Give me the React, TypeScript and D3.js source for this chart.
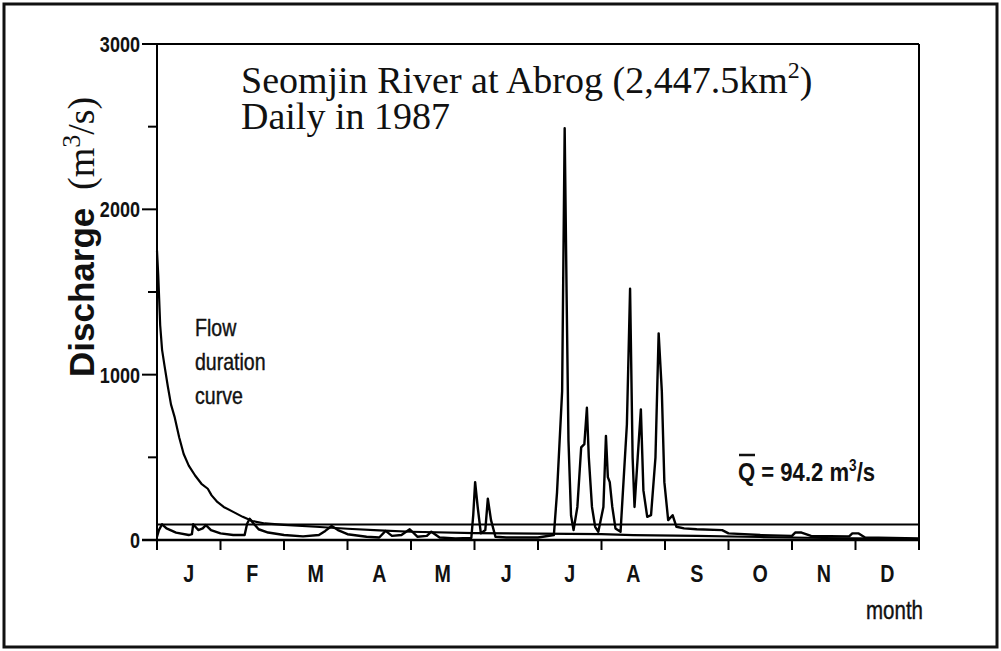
import React from "react";
import * as d3 from "d3";

// ---- data ----
const monthLabels = ["J", "F", "M", "A", "M", "J", "J", "A", "S", "O", "N", "D"];
const yMajorTicks = [0, 1000, 2000, 3000];
const yMinorTicks = [500, 1500, 2500];
const meanQ = 94.2;

// daily hydrograph: position in months (0 = 1 Jan, 12 = 31 Dec) and discharge (m3/s)
const hydroT = [
  0.0, 0.03, 0.08, 0.15, 0.3, 0.5, 0.55, 0.57, 0.65, 0.72, 0.77, 0.85, 1.0, 1.2, 1.38, 1.42, 1.46, 1.52, 1.6, 1.75,
  2.0, 2.3, 2.55, 2.65, 2.75, 2.85, 3.0, 3.3, 3.5, 3.6, 3.7, 3.85, 3.98, 4.1, 4.25, 4.32, 4.45, 4.7, 4.95, 4.98,
  5.01, 5.05, 5.1, 5.17, 5.21, 5.26, 5.33, 5.5, 6.0, 6.25, 6.3, 6.38, 6.42, 6.45, 6.48, 6.52, 6.56, 6.62, 6.68, 6.73,
  6.77, 6.8, 6.85, 6.9, 6.95, 7.03, 7.07, 7.1, 7.13, 7.17, 7.22, 7.3, 7.4, 7.45, 7.49, 7.52, 7.57, 7.62, 7.66, 7.72,
  7.78, 7.85, 7.9, 7.95, 7.99, 8.05, 8.12, 8.18, 8.3, 8.5, 8.9, 9.0, 9.5, 10.0, 10.05, 10.15, 10.3, 10.9, 10.95, 11.05,
  11.15, 12.0,
];
const hydroQ = [
  20, 60, 95, 70, 45, 30, 35, 95, 60, 70, 90, 60, 40, 30, 30, 100, 128, 100, 65, 45,
  30, 22, 30, 55, 85, 60, 35, 20, 15, 55, 25, 30, 65, 20, 25, 50, 15, 10, 12, 150,
  350, 200, 40, 60, 250, 120, 20, 15, 15, 30, 290, 900, 2490, 1500, 600, 150, 60, 200, 560, 580,
  800, 500, 200, 80, 50, 200, 630, 380, 350, 200, 70, 50, 700, 1520, 500, 200, 500, 790, 300, 140,
  150, 500, 1250, 900, 350, 120, 150, 80, 70, 65, 60, 40, 30, 25, 45, 45, 25, 22, 40, 40,
  15, 10,
];

// flow duration curve
const fdcT = [
  0, 0.02, 0.05, 0.08, 0.12, 0.17, 0.22, 0.28, 0.35, 0.42, 0.5, 0.6, 0.7, 0.8, 0.86, 0.95, 1.05, 1.2, 1.35, 1.5,
  1.7, 2.0, 2.5, 3.0, 3.5, 4.0, 5.0, 6.0, 7.0, 7.5, 8.5, 9.5, 10.5, 11.5, 12,
];
const fdcQ = [
  1750, 1600, 1300, 1150, 1050, 930, 820, 740, 620, 520, 450, 390, 340, 310, 270, 230, 200, 170, 140, 115,
  100, 92, 80, 68, 58, 50, 42, 38, 35, 30, 25, 18, 12, 8, 5,
];

const W = 1001;
const H = 651;

export default function App() {
  const x = d3.scaleLinear().domain([0, 12]).range([157, 919]);
  const y = d3.scaleLinear().domain([0, 3000]).range([540, 44]);

  const hydroPts: [number, number][] = hydroT.map((t, i) => [t, hydroQ[i]]);
  const fdcPts: [number, number][] = fdcT.map((t, i) => [t, fdcQ[i]]);
  const line = d3
    .line<[number, number]>()
    .x((d) => x(d[0]))
    .y((d) => y(d[1]));

  const monthTicks = d3.range(0, 13);
  const sans = "'Liberation Sans', Arial, sans-serif";
  const serif = "'Liberation Serif', 'Times New Roman', serif";
  const x0 = x(0);
  const x1 = x(12);
  const yTop = y(3000);
  const yBase = y(0);

  return (
    <svg
      width={W}
      height={H}
      viewBox={`0 0 ${W} ${H}`}
      style={{ position: "absolute", left: 0, top: 0, background: "#fff" }}
    >
      <rect x={0} y={0} width={W} height={H} fill="#fff" />
      {/* outer frame */}
      <rect x={4} y={4} width={W - 8} height={H - 8} fill="none" stroke="#111" strokeWidth={3} />

      {/* plot frame */}
      <line x1={x0 - 15} x2={x1} y1={yTop} y2={yTop} stroke="#000" strokeWidth={2} />
      <line x1={x0} x2={x0} y1={yTop} y2={yBase + 9} stroke="#000" strokeWidth={2} />
      <line x1={x1} x2={x1} y1={yTop} y2={yBase + 10} stroke="#000" strokeWidth={2} />
      <line x1={x0 - 15} x2={x1} y1={yBase} y2={yBase} stroke="#000" strokeWidth={2.5} />

      {/* y ticks */}
      {yMajorTicks.map((v) => (
        <g key={"yt" + v}>
          <line x1={x0 - 15} x2={x0} y1={y(v)} y2={y(v)} stroke="#000" strokeWidth={2} />
          <text
            transform={`translate(${x0 - 17},${y(v)}) scale(0.82,1)`}
            dy="0.36em"
            textAnchor="end"
            fontFamily={sans}
            fontWeight="bold"
            fontSize={22}
            fill="#111"
          >
            {v}
          </text>
        </g>
      ))}
      {yMinorTicks.map((v) => (
        <line key={"ym" + v} x1={x0 - 9} x2={x0} y1={y(v)} y2={y(v)} stroke="#000" strokeWidth={2} />
      ))}

      {/* x ticks */}
      {monthTicks.map((m) => (
        <line key={"xt" + m} x1={x(m)} x2={x(m)} y1={yBase} y2={yBase + 10} stroke="#000" strokeWidth={2} />
      ))}
      {monthLabels.map((lab, i) => (
        <text
          key={"xl" + i}
          transform={`translate(${x(i + 0.5)},582) scale(0.82,1)`}
          textAnchor="middle"
          fontFamily={sans}
          fontWeight="bold"
          fontSize={24}
          fill="#111"
        >
          {lab}
        </text>
      ))}
      <text
        transform={`translate(923,619) scale(0.82,1)`}
        textAnchor="end"
        fontFamily={sans}
        fontSize={25}
        fill="#111"
        stroke="#111"
        strokeWidth={0.4}
      >
        month
      </text>

      {/* mean discharge line */}
      <line x1={x0} x2={x1} y1={y(meanQ)} y2={y(meanQ)} stroke="#000" strokeWidth={2} />

      {/* flow duration curve */}
      <path d={line(fdcPts) || ""} fill="none" stroke="#000" strokeWidth={2.2} strokeLinejoin="round" />
      {/* hydrograph */}
      <path d={line(hydroPts) || ""} fill="none" stroke="#000" strokeWidth={2.4} strokeLinejoin="round" />

      {/* y-axis title */}
      <g transform="translate(94,377) rotate(-90)">
        <text x={0} y={0} fontFamily={sans} fontWeight="bold" fontSize={35} fill="#111">
          Discharge
        </text>
        <text x={187} y={0} fontFamily={serif} fontSize={38} fill="#111">
          (m<tspan fontSize={26} dy={-14}>3</tspan>
          <tspan dy={14}>/s)</tspan>
        </text>
      </g>

      {/* title */}
      <text x={241} y={93} fontFamily={serif} fontSize={38} fill="#111">
        Seomjin River at Abrog (2,447.5km<tspan fontSize={24} dy={-15}>2</tspan>
        <tspan dy={15}>)</tspan>
      </text>
      <text x={241} y={129} fontFamily={serif} fontSize={38} fill="#111">
        Daily in 1987
      </text>

      {/* flow duration curve label */}
      <g fontFamily={sans} fontSize={23} fill="#111" stroke="#111" strokeWidth={0.4}>
        <text transform="translate(195,336) scale(0.85,1)">Flow</text>
        <text transform="translate(195,370) scale(0.85,1)">duration</text>
        <text transform="translate(195,404) scale(0.85,1)">curve</text>
      </g>

      {/* mean label */}
      <g>
        <line x1={739} x2={755} y1={455} y2={455} stroke="#111" strokeWidth={2.5} />
        <text transform="translate(738,481) scale(0.85,1)" fontFamily={sans} fontWeight="bold" fontSize={26} fill="#111">
          Q = 94.2 m<tspan fontSize={16} dy={-10}>3</tspan>
          <tspan dy={10}>/s</tspan>
        </text>
      </g>
    </svg>
  );
}
